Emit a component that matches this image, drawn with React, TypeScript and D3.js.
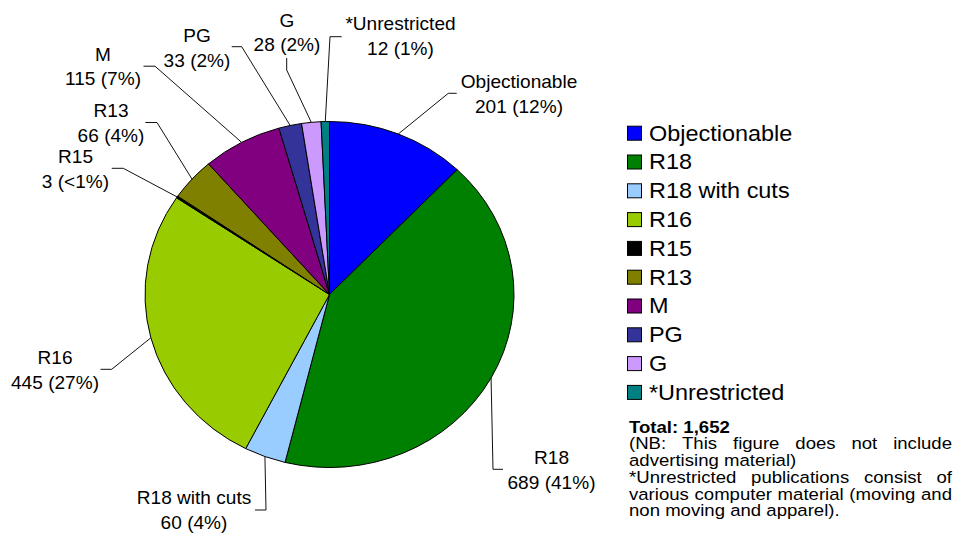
import React, { useEffect, useRef } from "react";
import * as d3 from "d3";

// ---------- data ----------
const categories = [
  "Objectionable",
  "R18",
  "R18 with cuts",
  "R16",
  "R15",
  "R13",
  "M",
  "PG",
  "G",
  "*Unrestricted",
];
const values = [201, 689, 60, 445, 3, 66, 115, 33, 28, 12];
const percentLabels = ["12%", "41%", "4%", "27%", "<1%", "4%", "7%", "2%", "2%", "1%"];
const colors = [
  "#0000FF",
  "#008000",
  "#99CCFF",
  "#99CC00",
  "#000000",
  "#808000",
  "#800080",
  "#333399",
  "#CC99FF",
  "#008080",
];
const totalLabel = "Total: 1,652";
const noteLines = [
  { text: "(NB: This figure does not include", justify: true },
  { text: "advertising material)", justify: false },
  { text: "*Unrestricted publications consist of", justify: true },
  { text: "various computer material (moving and", justify: true },
  { text: "non moving and apparel).", justify: false },
];

// ---------- layout (positions only) ----------
const W = 957;
const H = 542;
const PIE_CX = 329.5;
const PIE_CY = 294.5;
const RX = 184.5;
const RY = 173;
const FONT = "'Liberation Sans', Arial, Helvetica, sans-serif";

// label placement: text centre x, first baseline, elbow and end of the leader
const labelLayout = [
  { cx: 519, base: 88.3, elbow: [448.3, 93.3], end: [456.7, 93.3] },
  { cx: 551.5, base: 464, elbow: [493, 469.3], end: [503, 469.3] },
  { cx: 194, base: 504, elbow: [266, 510], end: [255, 510] },
  { cx: 55, base: 364, elbow: [111.7, 369.3], end: [100.5, 369.3] },
  { cx: 75.5, base: 163.3, elbow: [123.3, 168.3], end: [111.7, 168.3] },
  { cx: 111, base: 117, elbow: [157, 122.5], end: [145.4, 122.5] },
  { cx: 103, base: 60.5, elbow: [155, 66.2], end: [143.5, 66.2] },
  { cx: 197, base: 42, elbow: [241.7, 46.7], end: [231.7, 46.7] },
  { cx: 287, base: 26.7, elbow: [286.7, 70], end: [286.7, 58] },
  { cx: 400.5, base: 30, elbow: [330, 36.7], end: [341.7, 36.7] },
];
const LABEL_FS = 17.5;
const LABEL_SX = 1.09;
const LABEL_LH = 24.5;

const LEG_X = 627;
const LEG_Y0 = 132.7;
const LEG_STEP = 28.8;
const LEG_BOX = 14;
const LEG_TX = 649;
const LEG_FS = 22;
const LEG_SX = 1.065;

const NOTE_X = 629;
const NOTE_W = 323;
const NOTE_Y0 = 432.7;
const NOTE_LH = 16.7;
const NOTE_FS = 16.3;
const NOTE_SX = 1.14;

export default function App() {
  const ref = useRef<SVGSVGElement | null>(null);

  useEffect(() => {
    const svg = d3.select(ref.current);
    svg.selectAll("*").remove();

    svg.append("rect").attr("width", W).attr("height", H).attr("fill", "#fff");

    const data = categories.map((c, i) => ({ name: c, value: values[i], pct: percentLabels[i], color: colors[i], i }));

    const pie = d3
      .pie<any>()
      .sort(null)
      .value((d) => d.value)
      .startAngle(0)
      .endAngle(2 * Math.PI);
    const arcs = pie(data);
    const arc = d3.arc<any>().innerRadius(0).outerRadius(RX);

    const g = svg
      .append("g")
      .attr("transform", `translate(${PIE_CX},${PIE_CY}) scale(1,${RY / RX})`);
    g.selectAll("path")
      .data(arcs)
      .enter()
      .append("path")
      .attr("d", (d) => arc(d) as string)
      .attr("fill", (d) => d.data.color)
      .attr("stroke", "#000")
      .attr("stroke-width", 1)
      .attr("vector-effect", "non-scaling-stroke")
      .attr("stroke-linejoin", "round");

    // leader lines and labels
    const lab = svg.append("g");
    arcs.forEach((a, i) => {
      const L = labelLayout[i];
      const mid = (a.startAngle + a.endAngle) / 2;
      const ex = PIE_CX + RX * Math.sin(mid);
      const ey = PIE_CY - RY * Math.cos(mid);
      lab
        .append("polyline")
        .attr("points", `${ex},${ey} ${L.elbow[0]},${L.elbow[1]} ${L.end[0]},${L.end[1]}`)
        .attr("fill", "none")
        .attr("stroke", "#111")
        .attr("stroke-width", 1);
      const lines = [a.data.name, `${a.data.value} (${a.data.pct})`];
      lines.forEach((t, k) => {
        lab
          .append("text")
          .attr("transform", `translate(${L.cx},${L.base + k * LABEL_LH}) scale(${LABEL_SX},1)`)
          .attr("text-anchor", "middle")
          .attr("font-family", FONT)
          .attr("font-size", LABEL_FS)
          .attr("fill", "#000")
          .text(t);
      });
    });

    // legend
    const leg = svg.append("g");
    data.forEach((d, i) => {
      const y = LEG_Y0 + i * LEG_STEP;
      leg
        .append("rect")
        .attr("x", LEG_X + 0.5)
        .attr("y", y - LEG_BOX / 2 + 0.5)
        .attr("width", LEG_BOX)
        .attr("height", LEG_BOX)
        .attr("fill", d.color)
        .attr("stroke", "#000")
        .attr("stroke-width", 1);
      leg
        .append("text")
        .attr("transform", `translate(${LEG_TX},${y + LEG_FS * 0.36}) scale(${LEG_SX},1)`)
        .attr("font-family", FONT)
        .attr("font-size", LEG_FS)
        .attr("fill", "#000")
        .text(d.name);
    });

    // footnote
    const note = svg.append("g");
    note
      .append("text")
      .attr("transform", `translate(${NOTE_X},${NOTE_Y0}) scale(${NOTE_SX},1)`)
      .attr("font-family", FONT)
      .attr("font-size", NOTE_FS)
      .attr("font-weight", "bold")
      .attr("fill", "#000")
      .text(totalLabel);
    noteLines.forEach((ln, k) => {
      const lg = note
        .append("g")
        .attr("transform", `translate(${NOTE_X},${NOTE_Y0 + (k + 1) * NOTE_LH}) scale(${NOTE_SX},1)`);
      const words = ln.text.split(" ");
      const nodes = words.map((w) =>
        lg
          .append("text")
          .attr("font-family", FONT)
          .attr("font-size", NOTE_FS)
          .attr("fill", "#000")
          .text(w)
      );
      const widths = nodes.map((n) => (n.node() as SVGTextElement).getComputedTextLength());
      const sum = d3.sum(widths);
      const spaceW = NOTE_FS * 0.278;
      const target = NOTE_W / NOTE_SX;
      const gap = ln.justify && words.length > 1 ? (target - sum) / (words.length - 1) : spaceW;
      let x = 0;
      nodes.forEach((n, j) => {
        n.attr("x", x);
        x += widths[j] + gap;
      });
    });
  }, []);

  return (
    <svg
      ref={ref}
      width={W}
      height={H}
      style={{ position: "absolute", left: 0, top: 0, background: "#fff" }}
    />
  );
}
